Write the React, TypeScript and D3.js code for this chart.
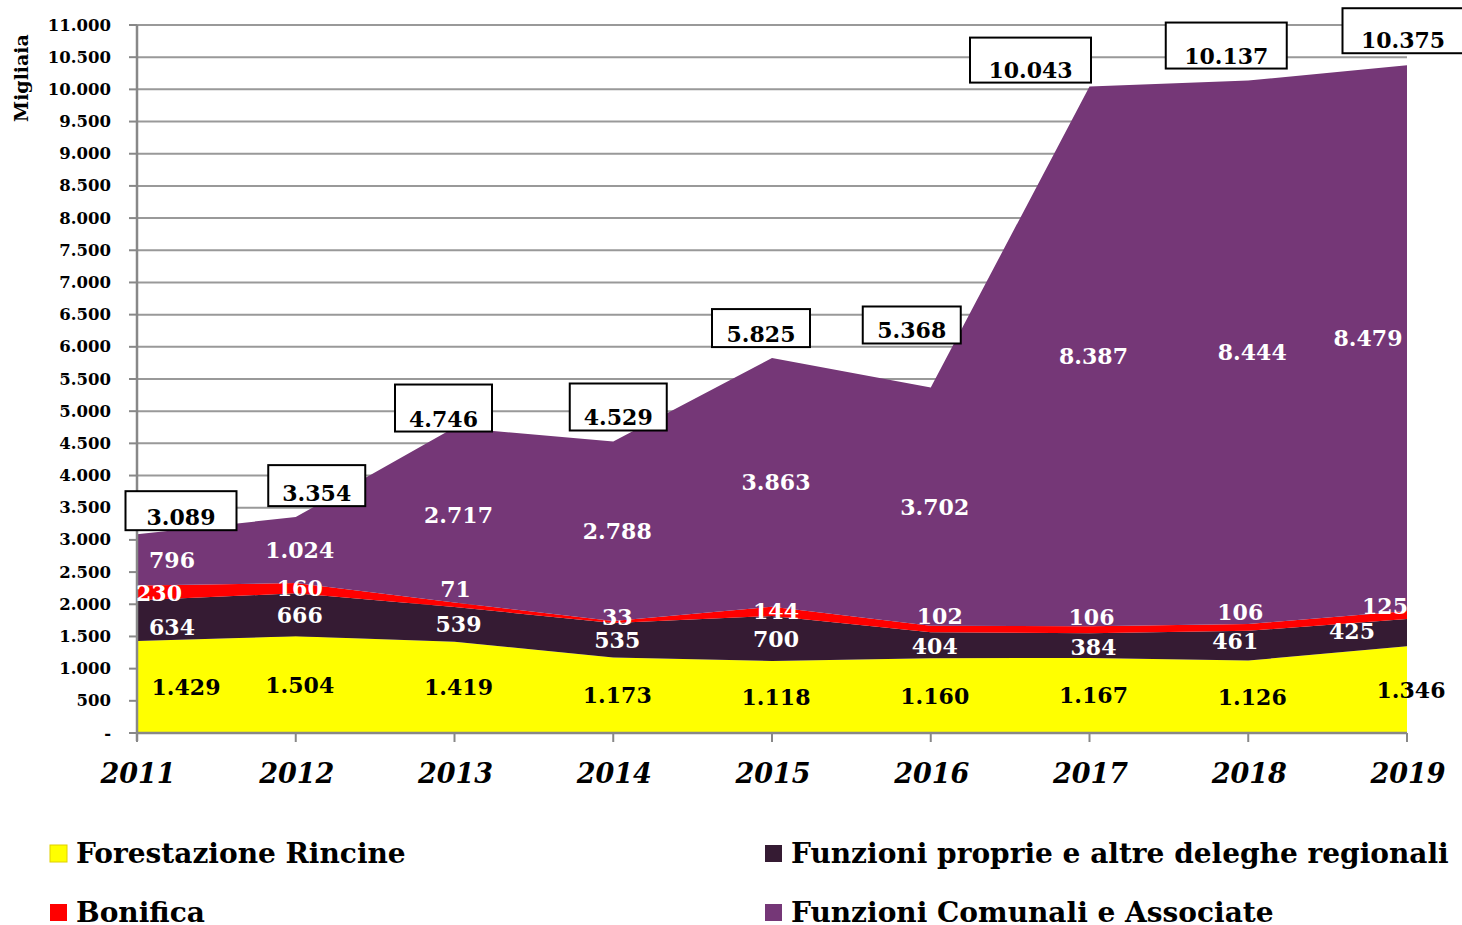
import React from "react";
import * as d3 from "d3";

const years = [2011, 2012, 2013, 2014, 2015, 2016, 2017, 2018, 2019];
const forestazione = [1429, 1504, 1419, 1173, 1118, 1160, 1167, 1126, 1346];
const funzioniProprie = [634, 666, 539, 535, 700, 404, 384, 461, 425];
const bonifica = [230, 160, 71, 33, 144, 102, 106, 106, 125];
const funzioniComunali = [796, 1024, 2717, 2788, 3863, 3702, 8387, 8444, 8479];
const totals = [3089, 3354, 4746, 4529, 5825, 5368, 10043, 10137, 10375];
const yTicks = d3.range(0, 11001, 500);

const seriesNames = [
  "Forestazione Rincine",
  "Funzioni proprie e altre deleghe regionali",
  "Bonifica",
  "Funzioni Comunali e Associate",
];
const seriesColors = ["#FFFF00", "#351B33", "#FF0000", "#753777"];
const labelColors = ["#000", "#fff", "#fff", "#fff"];

// label x/y nudges (px) per series per year
const labelDx = [
  [49, 4, 4, 4, 4, 4, 4, 4, 4],
  [35, 4, 4, 4, 4, 4, 4, -13, -55],
  [22, 4, 1, 4, 4, 9, 2, -8, -22],
  [35, 4, 4, 4, 4, 4, 4, 4, -39],
];
const labelDy = [
  [0, 0, 0, 0, 0, 0, 0, 0, 0],
  [6, 0, 0, 0, 0, 1, 1, -5, -2],
  [0, 0, -16, -5, 0, -13, -13, -15, -9],
  [0, 0, 0, 0, 0, 0, 0, 0, 0],
];
const boxDx = [44, 21, -11, 5, -11, -19, -59, -22, -4];
const boxGap = [4, 11, -4, 11, 11, 44, 4, 12, 12];
const boxW = [111, 97, 97, 97, 98, 98, 121, 121, 121];
const boxH = [39, 41, 47, 47, 38, 37, 45, 46, 45];

const FONT = "'DejaVu Serif', serif";
const fmt = (v: number) => (v === 0 ? "-" : d3.format(",")(v).replace(/,/g, "."));

export default function App() {
  const W = 1462, H = 925;
  const x = d3.scaleLinear().domain([2011, 2019]).range([137, 1407]);
  const y = d3.scaleLinear().domain([0, 11000]).range([733, 25]);

  const rows = years.map((yr, i) => ({
    year: yr,
    s0: forestazione[i],
    s1: funzioniProprie[i],
    s2: bonifica[i],
    s3: funzioniComunali[i],
  }));
  const stack = d3.stack<any>().keys(["s0", "s1", "s2", "s3"]);
  const layers = stack(rows);
  const area = d3
    .area<any>()
    .x((d) => x(d.data.year))
    .y0((d) => y(d[0]))
    .y1((d) => y(d[1]));

  const legend = [
    { i: 0, lx: 50, ly: 853 },
    { i: 2, lx: 50, ly: 912 },
    { i: 1, lx: 765, ly: 853 },
    { i: 3, lx: 765, ly: 912 },
  ];

  return (
    <svg width={W} height={H} style={{ position: "absolute", left: 0, top: 0, background: "#fff" }} fontFamily={FONT}>
      {yTicks.map((t) => (
        <g key={t}>
          {t > 0 && <line x1={137} x2={1407} y1={y(t)} y2={y(t)} stroke="#999" strokeWidth={2} />}
          <line x1={129} x2={137} y1={y(t)} y2={y(t)} stroke="#888" strokeWidth={2} />
          <text x={111} y={y(t)} textAnchor="end" dominantBaseline="central" fontSize={16.5} fontWeight="bold">
            {fmt(t)}
          </text>
        </g>
      ))}
      {layers.map((L, k) => (
        <path key={k} d={area(L) || ""} fill={seriesColors[k]} />
      ))}
      <line x1={137} x2={137} y1={25} y2={741} stroke="#888" strokeWidth={2.5} />
      <line x1={137} x2={1407} y1={733} y2={733} stroke="#888" strokeWidth={2.5} />
      {years.map((yr) => (
        <g key={yr}>
          <line x1={x(yr)} x2={x(yr)} y1={733} y2={742} stroke="#888" strokeWidth={2} />
          <text x={x(yr) + 1} y={783} textAnchor="middle" fontSize={27} fontWeight="bold" fontStyle="italic">
            {yr}
          </text>
        </g>
      ))}
      {layers.map((L, k) =>
        L.map((d, i) => (
          <text
            key={k + "-" + i}
            x={x(years[i]) + labelDx[k][i]}
            y={y((d[0] + d[1]) / 2) + labelDy[k][i]}
            textAnchor="middle"
            dominantBaseline="central"
            fontSize={22}
            fontWeight="bold"
            fill={labelColors[k]}
          >
            {fmt(d[1] - d[0])}
          </text>
        ))
      )}
      {totals.map((t, i) => {
        const cx = x(years[i]) + boxDx[i];
        const bottom = y(t) - boxGap[i];
        const label = fmt(t);
        const w = boxW[i];
        const h = boxH[i];
        return (
          <g key={"tot" + i}>
            <rect x={cx - w / 2} y={bottom - h} width={w} height={h} fill="#fff" stroke="#000" strokeWidth={2} />
            <text x={cx} y={bottom - 5} textAnchor="middle" fontSize={22} fontWeight="bold">
              {label}
            </text>
          </g>
        );
      })}
      <text
        transform={`translate(28,78) rotate(-90)`}
        textAnchor="middle"
        fontSize={19}
        fontWeight="bold"
      >
        Migliaia
      </text>
      {legend.map((l) => (
        <g key={l.i}>
          <rect x={l.lx} y={l.ly - 8} width={17} height={17} fill={seriesColors[l.i]} stroke={l.i === 0 ? "#e0d000" : "none"} />
          <text x={l.lx + 26} y={l.ly} dominantBaseline="central" fontSize={28} fontWeight="bold">
            {seriesNames[l.i]}
          </text>
        </g>
      ))}
    </svg>
  );
}
